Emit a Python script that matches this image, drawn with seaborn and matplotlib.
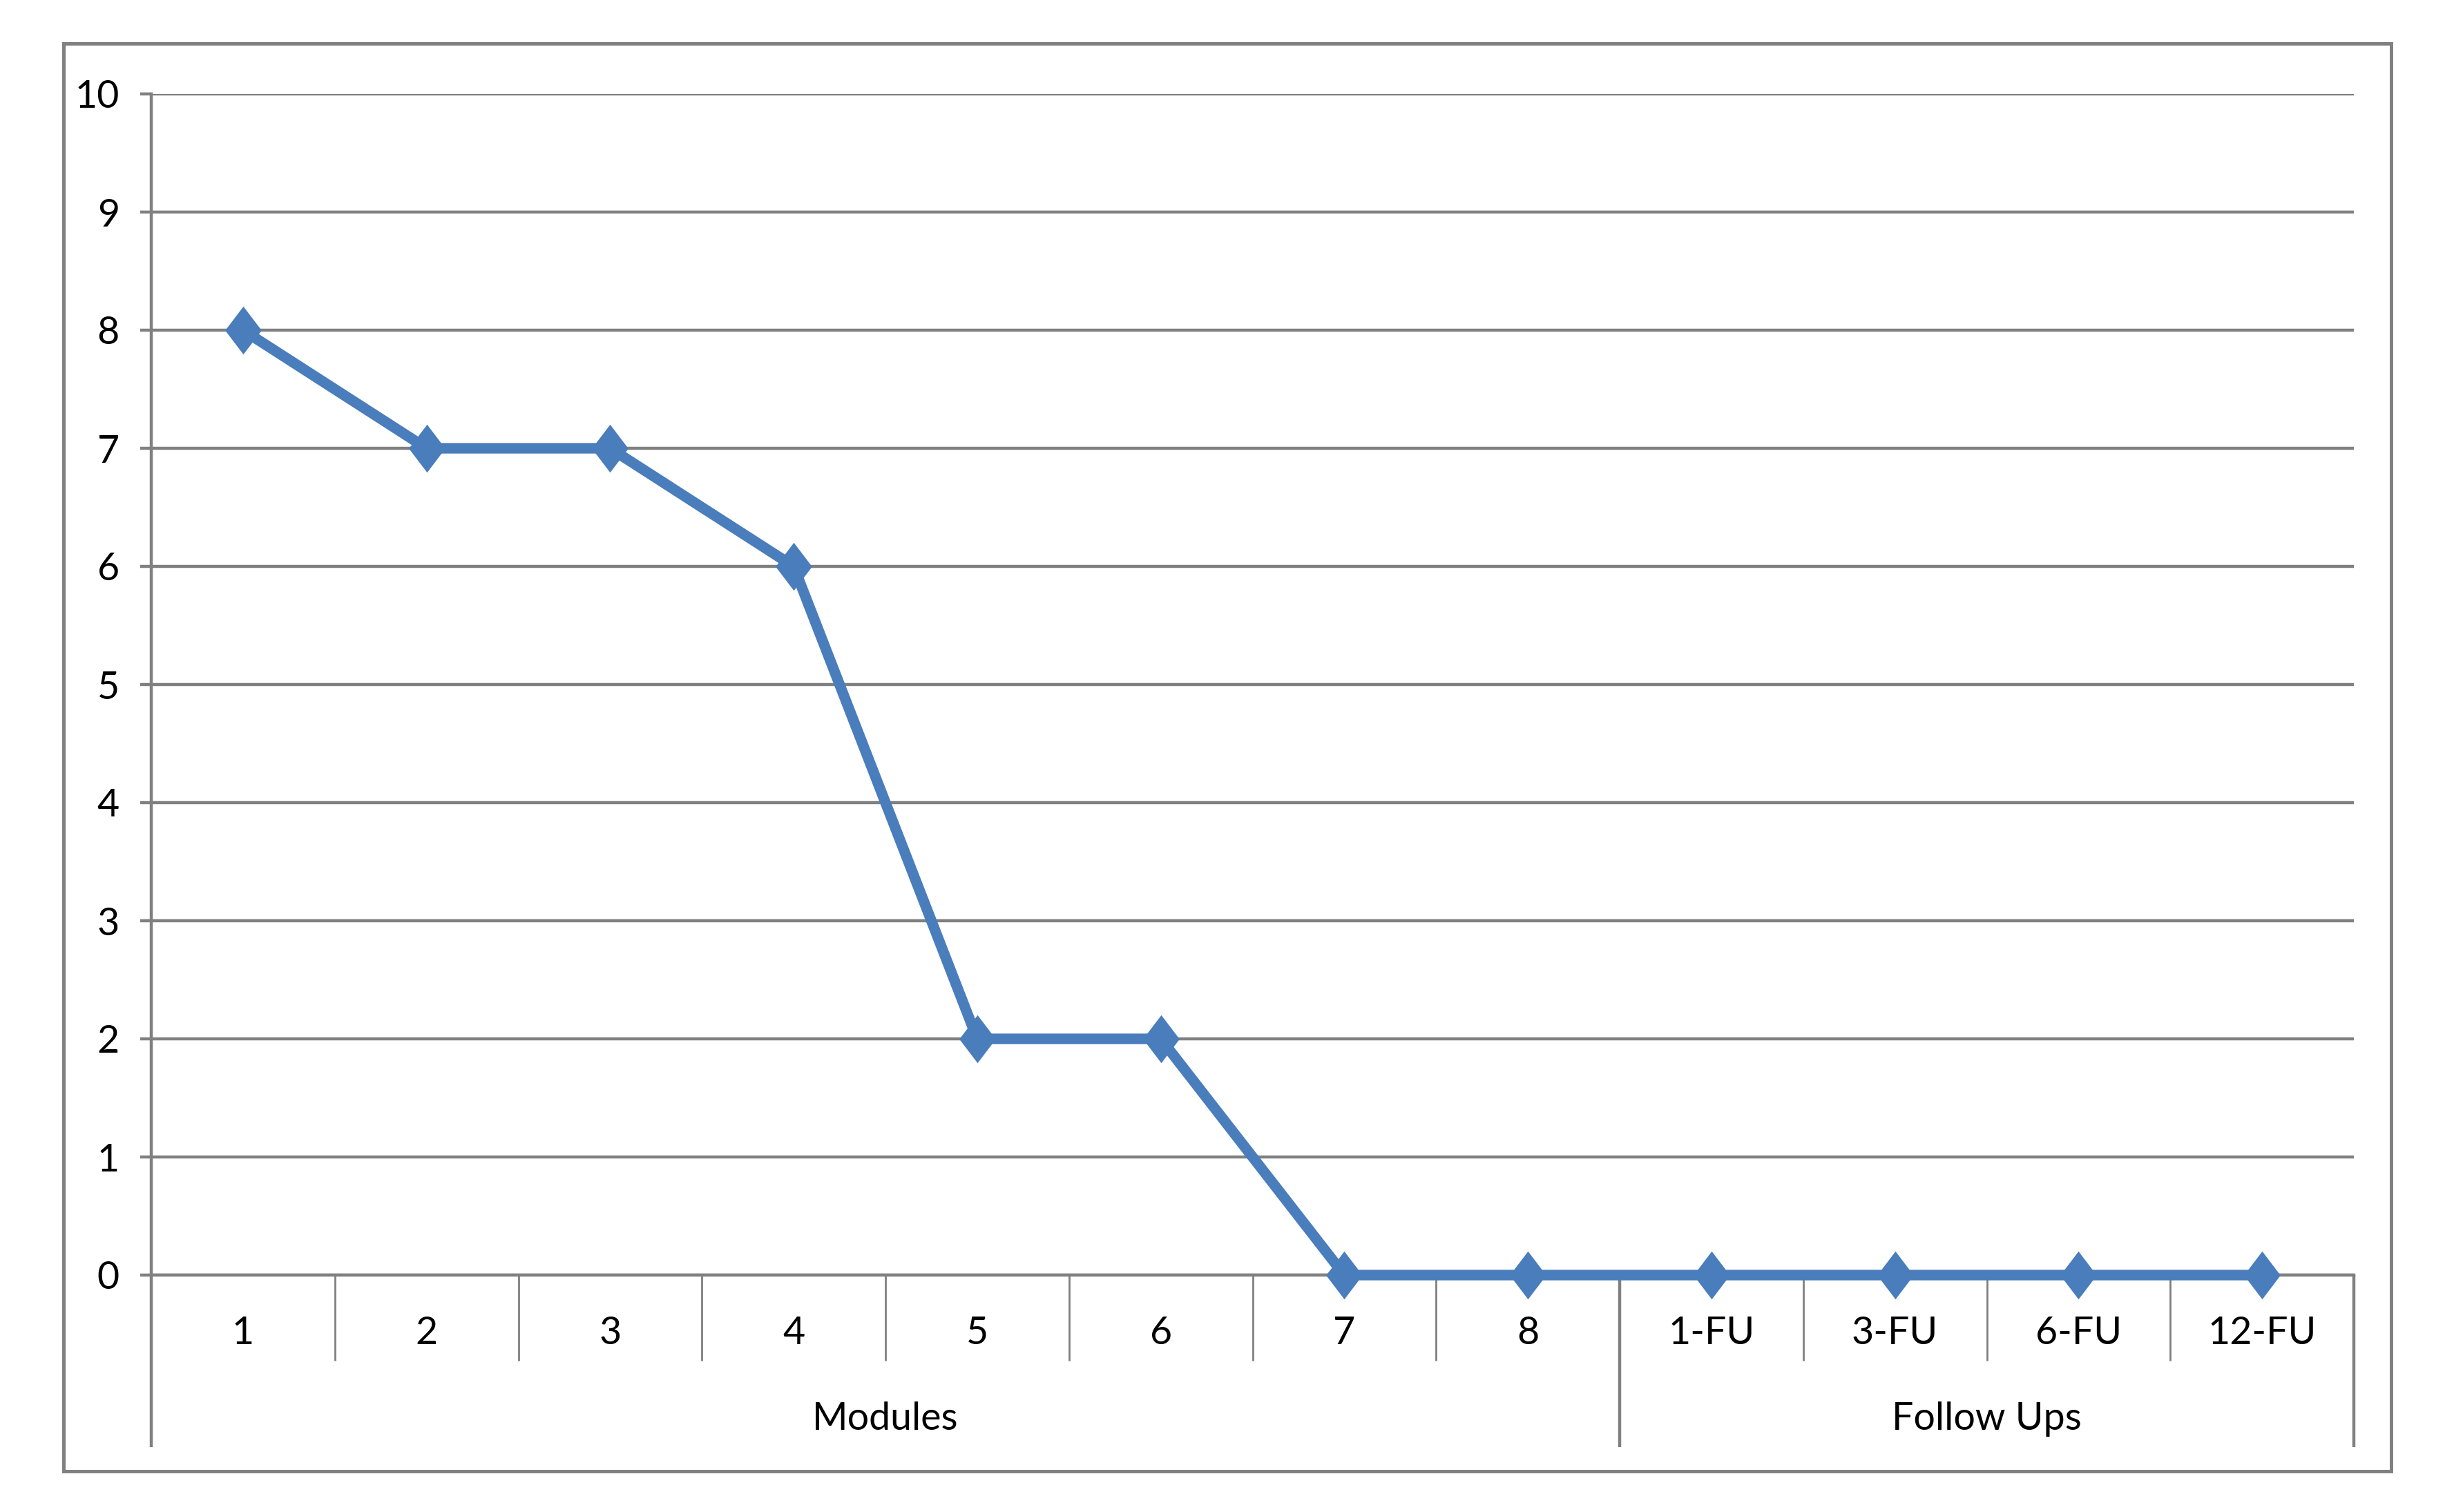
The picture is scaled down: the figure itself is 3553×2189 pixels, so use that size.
import numpy as np
import pandas as pd
import matplotlib
matplotlib.use("Agg")
import matplotlib.pyplot as plt
from matplotlib.path import Path
from matplotlib.patches import Rectangle
import seaborn as sns

# ---- data ----
categories = ["1", "2", "3", "4", "5", "6", "7", "8", "1-FU", "3-FU", "6-FU", "12-FU"]
values = [8, 7, 7, 6, 2, 2, 0, 0, 0, 0, 0, 0]
groups = ["Modules", "Follow Ups"]
group_sizes = [8, 4]
y_ticks = [0, 1, 2, 3, 4, 5, 6, 7, 8, 9, 10]

df = pd.DataFrame({"cat": categories, "val": values})

sns.set_theme(style="white")
plt.rcParams["font.family"] = ["Lato", "DejaVu Sans"]

GRAY = "#808080"
BLUE = "#4A7DBB"
FS = 20
DPI = 200
fig = plt.figure(figsize=(3553 / DPI, 2189 / DPI), dpi=DPI)
ax = fig.add_axes([219 / 3553, 1 - 1846 / 2189, (3408 - 219) / 3553, (1846 - 136) / 2189])

diamond = Path([(0, 1), (0.76, 0), (0, -1), (-0.76, 0), (0, 1)],
               [Path.MOVETO, Path.LINETO, Path.LINETO, Path.LINETO, Path.CLOSEPOLY])

sns.lineplot(data=df, x="cat", y="val", sort=False, ax=ax, color=BLUE,
             linewidth=5.5, marker=diamond, markersize=25,
             markeredgewidth=0, markerfacecolor=BLUE, clip_on=False, zorder=5)

n = len(categories)
ax.set_xlim(-0.5, n - 0.5)
ax.set_ylim(0, 10)
ax.set_yticks(y_ticks)
ax.set_yticklabels([str(v) for v in y_ticks])
ax.set_xticks(range(n))
ax.set_xticklabels(categories)
ax.set_xticks(np.arange(-0.5, n, 1.0), minor=True)
ax.set_xlabel("")
ax.set_ylabel("")

ax.yaxis.grid(True, color=GRAY, linewidth=1.6)
ax.xaxis.grid(False)
ax.set_axisbelow(True)

for s in ["top", "right"]:
    ax.spines[s].set_visible(False)
for s in ["left", "bottom"]:
    ax.spines[s].set_color(GRAY)
    ax.spines[s].set_linewidth(1.6)

ax.tick_params(axis="y", which="major", length=5.8, width=1.6, color=GRAY,
               direction="out", left=True, labelsize=FS, pad=10.8, labelcolor="black")
ax.tick_params(axis="x", which="major", length=0, labelsize=FS, pad=30.6,
               labelcolor="black", bottom=False)
ax.tick_params(axis="x", which="minor", length=44.6, width=1.0, color=GRAY,
               direction="out", bottom=True)
for t in ax.get_xticklabels():
    t.set_va("center")

# group separators and labels
trans = ax.get_xaxis_transform()
bounds = np.concatenate([[0], np.cumsum(group_sizes)]) - 0.5
ax.vlines(bounds, -0.1456, 0, transform=trans, colors=GRAY, linewidth=1.6, clip_on=False)
for g, a, b in zip(groups, bounds[:-1], bounds[1:]):
    ax.text((a + b) / 2, -0.1222, g, transform=trans, ha="center", va="center",
            fontsize=FS, color="black")

# outer border
fig.patches.append(Rectangle((92 / 3553, 1 - 2130 / 2189), (3462 - 92) / 3553, (2130 - 63) / 2189,
                             transform=fig.transFigure, fill=False, edgecolor=GRAY, linewidth=1.8))

fig.savefig("out.png", dpi=DPI, facecolor="white")
